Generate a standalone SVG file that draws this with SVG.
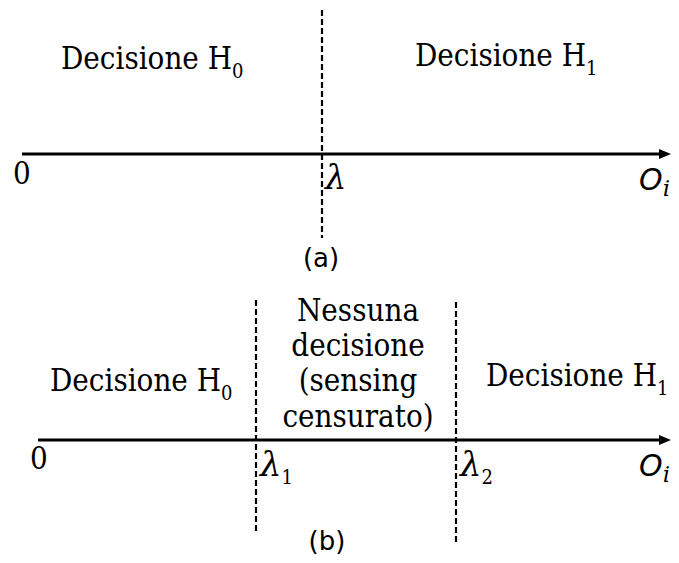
<svg xmlns="http://www.w3.org/2000/svg" width="679" height="563" viewBox="0 0 679 563">
<defs>
<marker id="arr" viewBox="0 0 12 10" refX="0" refY="5" markerWidth="12" markerHeight="10" markerUnits="userSpaceOnUse" orient="auto">
<path d="M0,0 L12,5 L0,10 z" fill="#000"/>
</marker>
<style>
.axis{stroke:#000;stroke-width:3;fill:none}
.dash{stroke:#000;stroke-width:2.2;stroke-dasharray:6,3;fill:none}
.lbl{font-family:"DejaVu Serif Condensed","DejaVu Serif",serif;font-stretch:condensed;font-size:31px;fill:#000}
.sub{font-size:20px}
.lam{font-family:"DejaVu Serif",serif;font-style:italic;font-size:34px;fill:#000}
.lsub{font-family:"DejaVu Serif Condensed","DejaVu Serif",serif;font-style:normal;font-size:20px;fill:#000}
.oi{font-family:"DejaVu Sans",sans-serif;font-style:italic;font-size:30px;fill:#000}
.isub{font-family:"DejaVu Serif",serif;font-style:italic;font-size:23px}
.cap{font-family:"DejaVu Sans",sans-serif;font-size:26px;fill:#000}
</style>
</defs>
<g id="connectors">
<line class="axis" x1="22" y1="154" x2="659" y2="154" marker-end="url(#arr)"/>
<line class="dash" x1="322" y1="10" x2="322" y2="238"/>
<line class="axis" x1="38" y1="440" x2="659" y2="440" marker-end="url(#arr)"/>
<line class="dash" x1="256" y1="300" x2="256" y2="532"/>
<line class="dash" x1="456" y1="302" x2="456" y2="545"/>
</g>
<g id="a-h0"><text class="lbl" x="61" y="69">Decisione H<tspan class="sub" dy="9">0</tspan></text></g>
<g id="a-h1"><text class="lbl" x="415" y="66">Decisione H<tspan class="sub" dy="9">1</tspan></text></g>
<g id="a-zero"><text class="lbl" x="13" y="184">0</text></g>
<g id="a-lambda"><text class="lam" x="325" y="189">λ</text></g>
<g id="a-oi"><text class="oi" x="639" y="190">O<tspan class="isub" dy="6">i</tspan></text></g>
<g id="a-cap"><text class="cap" x="321" y="267" text-anchor="middle">(a)</text></g>
<g id="b-h0"><text class="lbl" x="50" y="391">Decisione H<tspan class="sub" dy="9">0</tspan></text></g>
<g id="b-mid"><text class="lbl" text-anchor="middle"><tspan x="358" y="321">Nessuna</tspan><tspan x="358" y="356">decisione</tspan><tspan x="358" y="391">(sensing</tspan><tspan x="358" y="427">censurato)</tspan></text></g>
<g id="b-h1"><text class="lbl" x="486" y="386">Decisione H<tspan class="sub" dy="9">1</tspan></text></g>
<g id="b-zero"><text class="lbl" x="30" y="469">0</text></g>
<g id="b-l1"><text class="lam" x="260" y="476">λ<tspan class="lsub" dy="8">1</tspan></text></g>
<g id="b-l2"><text class="lam" x="460" y="476">λ<tspan class="lsub" dy="8">2</tspan></text></g>
<g id="b-oi"><text class="oi" x="639" y="476">O<tspan class="isub" dy="6">i</tspan></text></g>
<g id="b-cap"><text class="cap" x="327" y="550" text-anchor="middle">(b)</text></g>
</svg>
